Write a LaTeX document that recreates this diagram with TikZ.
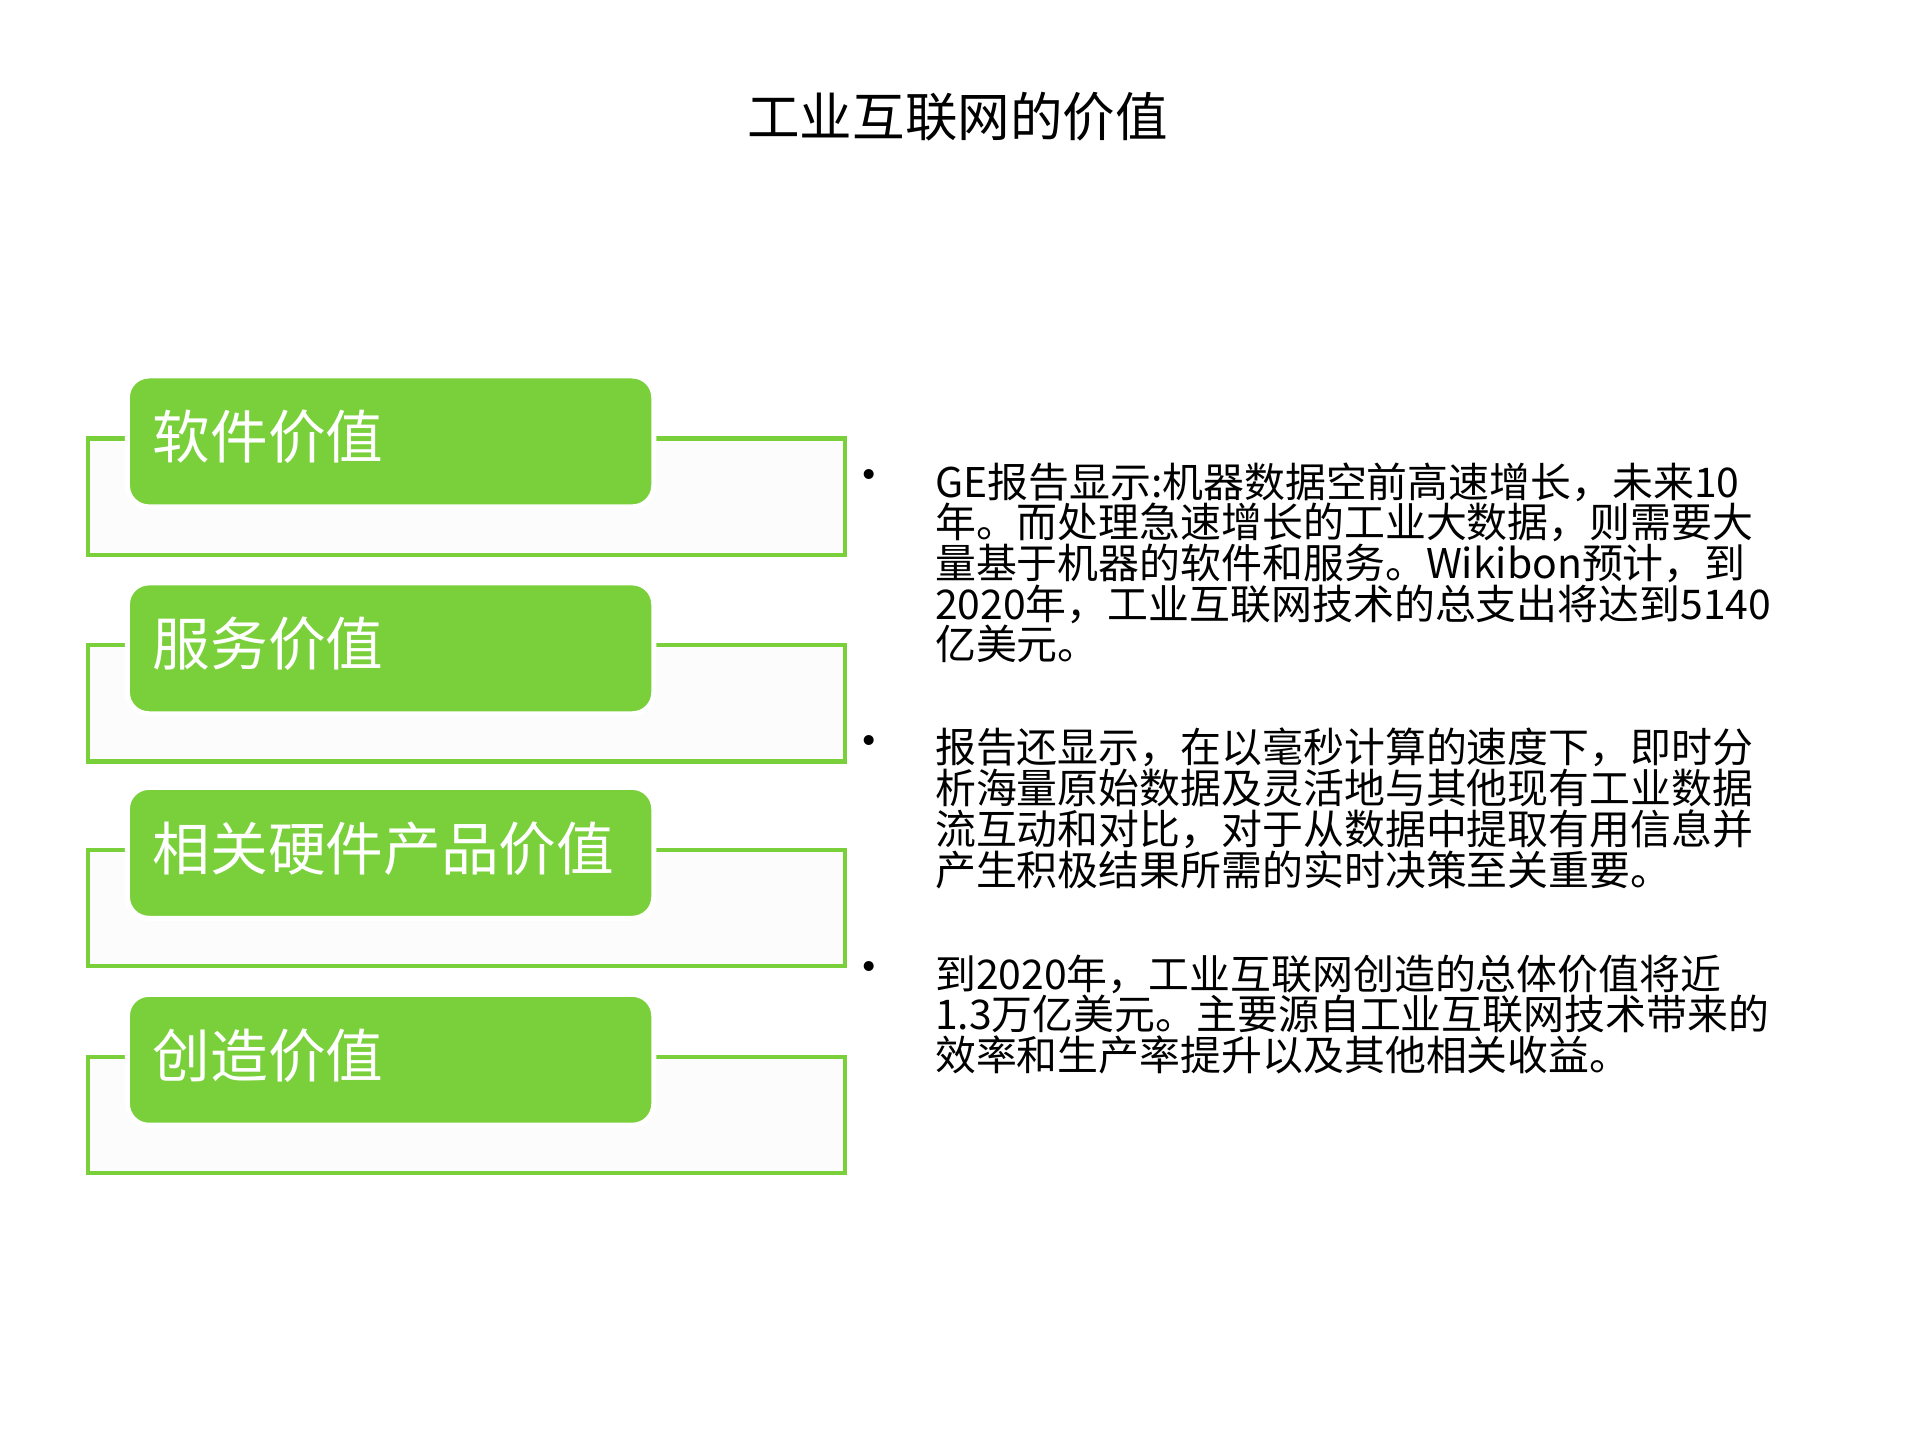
\documentclass[tikz,border=0pt]{standalone}
\usepackage{fontspec}
\setmainfont{Noto Sans CJK SC}
\begin{document}
\begin{tikzpicture}[x=0.01cm,y=-0.01cm,
 frame/.style={draw={rgb,255:red,122;green,208;blue,58}, line width=1pt, fill={rgb,255:red,252;green,252;blue,252}},
 gbox/.style={fill={rgb,255:red,122;green,208;blue,58}, draw=white, line width=1.2pt, rounded corners=5pt},
 body/.style={anchor=north west, align=left, font=\fontsize{9.5}{9.45}\selectfont, inner sep=0pt},
 bul/.style={font=\fontsize{11}{11}\selectfont}]
\useasboundingbox (0,0) rectangle (1568,1176);
\node (title) at (782,95) {\fontsize{12.2}{13}\selectfont 工业互联网的价值};
\foreach \y/\t/\n in {307/软件价值/a,476/服务价值/b,643/相关硬件产品价值/c,812/创造价值/d}{
  \draw[frame] (72,\y+51) rectangle (690,\y+146);
  \draw[gbox] (104,\y) rectangle (534,\y+107);
  \node[anchor=west, text=white, inner sep=0pt, font=\fontsize{13.4}{14}\selectfont] (\n) at (124,\y+50) {\t};
}
\node[bul] (b1) at (710,393) {•};
\node[bul] (b2) at (710,610) {•};
\node[bul] (b3) at (710,795) {•};
\node[body] (p1) at (763,377) {GE报告显示:机器数据空前高速增长，未来10\\年。而处理急速增长的工业大数据，则需要大\\量基于机器的软件和服务。Wikibon预计，到\\2020年，工业互联网技术的总支出将达到5140\\亿美元。};
\node[body] (p2) at (763,594) {报告还显示，在以毫秒计算的速度下，即时分\\析海量原始数据及灵活地与其他现有工业数据\\流互动和对比，对于从数据中提取有用信息并\\产生积极结果所需的实时决策至关重要。};
\node[body] (p3) at (763,779) {到2020年，工业互联网创造的总体价值将近\\1.3万亿美元。主要源自工业互联网技术带来的\\效率和生产率提升以及其他相关收益。};
\end{tikzpicture}
\end{document}
